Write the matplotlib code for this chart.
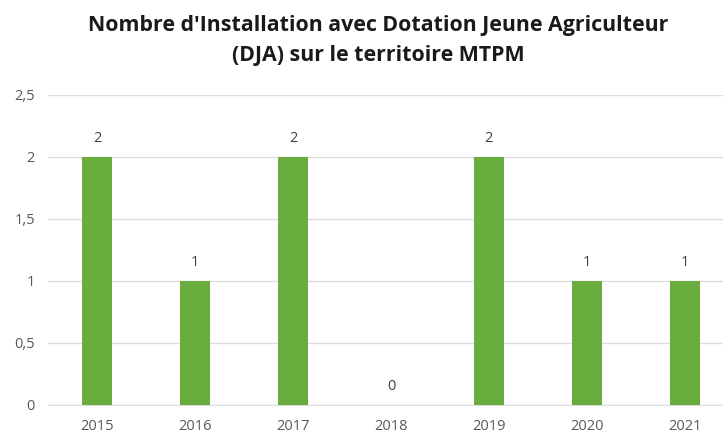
import matplotlib
matplotlib.use("Agg")
import matplotlib.pyplot as plt

years = ["2015", "2016", "2017", "2018", "2019", "2020", "2021"]
values = [2, 1, 2, 0, 2, 1, 1]
y_ticks = [0, 0.5, 1, 1.5, 2, 2.5]
y_tick_labels = ["0", "0,5", "1", "1,5", "2", "2,5"]
title_lines = ["Nombre d'Installation avec Dotation Jeune Agriculteur",
               "(DJA) sur le territoire MTPM"]

plt.rcParams['font.family'] = ['Open Sans', 'DejaVu Sans']

fig = plt.figure(figsize=(7.23, 4.34), dpi=100)
ax = fig.add_axes([48/723, 1 - 405/434, 1 - 48/723, (405 - 95)/434])

x = list(range(len(years)))
ax.bar(x, values, width=0.31, color="#6AAD3F", zorder=3)
for xi, v in zip(x, values):
    ax.annotate(str(v), (xi, v), xytext=(0, 13), textcoords="offset points",
                ha="center", va="center", fontsize=10.5, color="#404040")

ax.set_ylim(0, 2.5)
ax.set_xlim(-0.5, (723 - 98.5) / 97.75)
ax.set_yticks(y_ticks)
ax.set_yticklabels(y_tick_labels)
ax.set_xticks(x)
ax.set_xticklabels(years)
ax.tick_params(axis="both", length=0, labelsize=10.5, labelcolor="#595959")
ax.tick_params(axis="y", pad=9.4)
ax.tick_params(axis="x", pad=10)
ax.grid(axis="y", color="#DDDDDD", linewidth=1, zorder=0)
for s in ax.spines.values():
    s.set_visible(False)
ax.spines["bottom"].set_visible(True)
ax.spines["bottom"].set_color("#DDDDDD")

for i, line in enumerate(title_lines):
    fig.text(378/723, 1 - (25 + 31 * i)/434, line, ha="center", va="center",
             fontsize=15.4, fontweight="bold", color="#1a1a1a")

fig.savefig("out.png", dpi=100)
